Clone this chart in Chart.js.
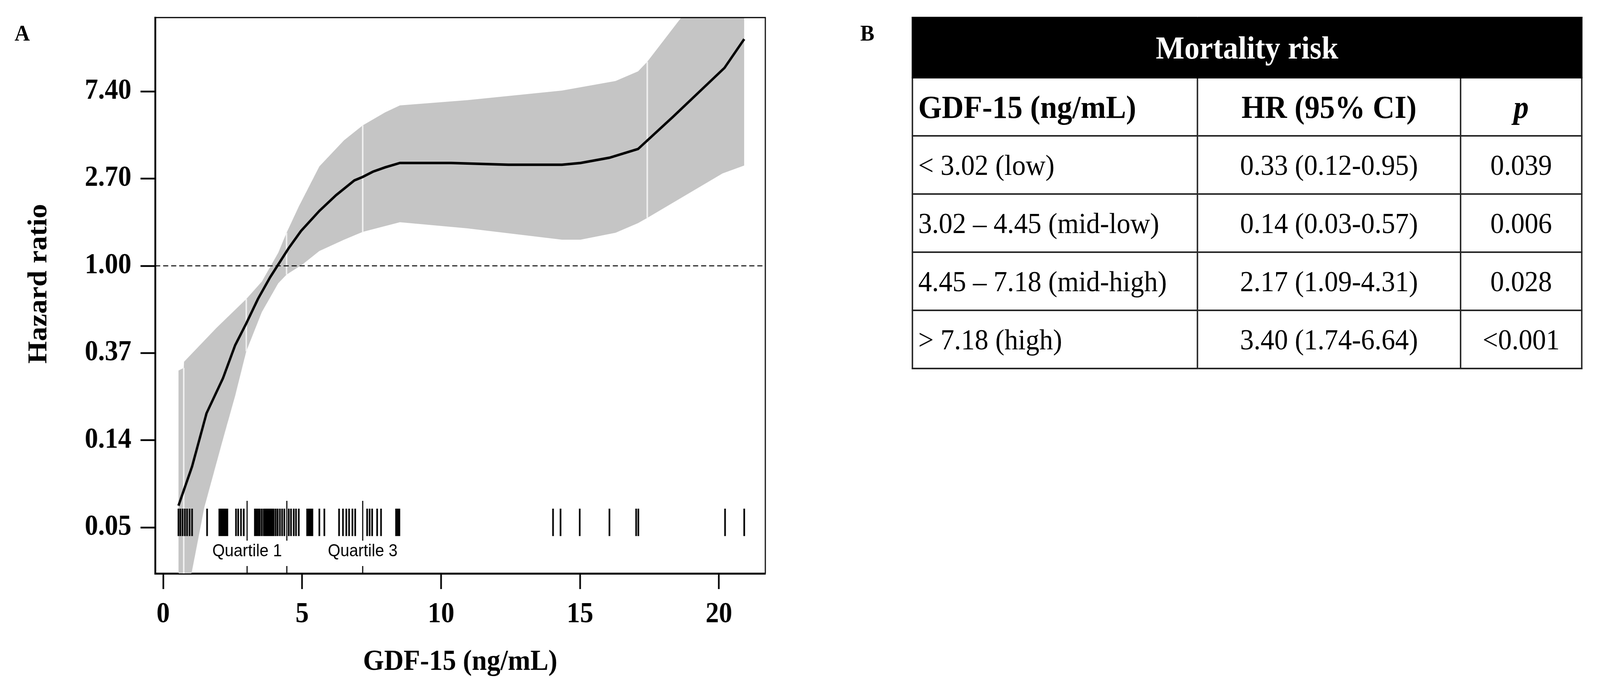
<!DOCTYPE html>
<html>
<head>
<meta charset="utf-8">
<script src="https://cdn.jsdelivr.net/npm/chart.js@4.4.1/dist/chart.umd.min.js"></script>
<style>
  html, body { margin: 0; padding: 0; background: #fff; overflow: hidden; }
  #page { position: absolute; left: 0; top: 0; width: 4384px; height: 1765px; transform-origin: 0 0; font-family: "Liberation Serif", serif; }
  #wrap { position: absolute; left: 0; top: 0; width: 2300px; height: 1765px; }
  .panel { position: absolute; font: bold 58px "Liberation Serif"; line-height: 1; color: #000; }
  #tbl { position: absolute; left: 2498px; top: 43px; width: 1834px; border-collapse: collapse; table-layout: fixed; }
  #tbl td { border: 4px solid #262626; font-size: 75px; color: #000; padding: 0; vertical-align: middle; white-space: nowrap; }
  #tbl td.c0 { text-align: left; padding-left: 14px; }
  #tbl td.c1, #tbl td.c2 { text-align: center; }
  #tbl tr.title td { background: #000; color: #fff; font-weight: bold; font-size: 83px; text-align: center; border-color: #000; }
  #tbl tr.head td { font-weight: bold; font-size: 83px; }
  #tbl tr.head td.c2 { font-style: italic; }
</style>
</head>
<body>
<div id="page">
  <div class="panel" style="left:40px;top:56px;">A</div>
  <div class="panel" style="left:2357px;top:56px;">B</div>
  <div id="wrap"><canvas id="hr" width="2300" height="1765"></canvas></div>
  <table id="tbl"></table>
</div>
<script>
// spline of the log hazard ratio (y = ln HR)
const gdfX = [0.55, 1.04, 1.56, 2.15, 2.59, 2.99, 3.41, 3.85, 4.19, 4.51, 4.96, 5.62, 6.22, 6.88, 7.18, 7.55, 7.99, 8.52, 10.36, 12.43, 14.35, 15.02, 16.06, 17.09, 18.35, 20.2, 20.91];
const logHR = [-2.75, -2.30, -1.69, -1.29, -0.91, -0.66, -0.38, -0.13, 0.04, 0.20, 0.40, 0.63, 0.81, 0.98, 1.02, 1.08, 1.13, 1.18, 1.18, 1.16, 1.16, 1.18, 1.24, 1.34, 1.71, 2.27, 2.60];

// 95% confidence band
const upX = [0.55, 0.74, 0.75, 1.92, 2.99, 3.55, 4.14, 4.44, 4.88, 5.62, 6.51, 7.18, 7.99, 8.52, 10.95, 14.35, 16.28, 17.09, 17.42, 18.65, 20.2, 20.91];
const upLogHR = [-1.20, -1.17, -1.10, -0.71, -0.38, -0.18, 0.15, 0.38, 0.68, 1.14, 1.44, 1.61, 1.76, 1.84, 1.90, 2.01, 2.12, 2.23, 2.34, 2.85, 3.50, 3.78];
const loX = [0.55, 1.48, 2.15, 2.59, 2.99, 3.55, 4.14, 4.44, 5.03, 5.62, 6.51, 7.18, 8.52, 10.95, 14.35, 15.02, 16.28, 17.09, 17.42, 20.13, 20.91];
const loLogHR = [-4.30, -2.77, -1.99, -1.49, -0.98, -0.53, -0.20, -0.10, 0.02, 0.17, 0.30, 0.39, 0.50, 0.43, 0.30, 0.30, 0.38, 0.49, 0.55, 1.06, 1.15];

// thin white seams inside the band
const gapX = [0.74, 2.99, 4.44, 7.18, 17.42];
const gapLow = [-4.0, -0.98, -0.10, 0.39, 0.55];
const gapHigh = [-1.17, -0.38, 0.38, 1.61, 2.34];

// rug of observed GDF-15 values
const rugX = [0.55, 0.62, 0.70, 0.78, 0.86, 0.95, 1.04, 1.58, 2.02, 2.07, 2.12, 2.17, 2.22, 2.27, 2.31,
  2.62, 2.70, 2.80, 2.90, 3.30, 3.36, 3.42, 3.48, 3.55, 3.62, 3.68, 3.73, 3.78, 3.83, 3.88, 3.93, 3.98,
  4.05, 4.12, 4.20, 4.28, 4.36, 4.52, 4.60, 4.70, 4.78, 4.88, 5.18, 5.23, 5.28, 5.33, 5.37, 5.62, 5.80,
  6.33, 6.47, 6.59, 6.69, 6.81, 6.91, 7.34, 7.43, 7.52, 7.70, 7.84, 8.38, 8.44, 8.50,
  14.03, 14.30, 14.99, 16.06, 17.02, 17.10, 20.22, 20.91];
const rugRange = [-3.098, -2.784];

const quartileX = [3.02, 4.45, 7.18];
const quartileLong = [-3.151, -2.695];
const quartileShort = [-3.527, -3.442];
const quartileLabels = ['Quartile 1', 'Quartile 3'];
const quartileLabelX = [3.02, 7.18];
const quartileLabelY = -3.277;

const refLogHR = 0; // HR = 1

const xTicks = [0, 5, 10, 15, 20];
const yTicks = [-3, -2, -1, 0, 1, 2];
const yTickLabels = ['0.05', '0.14', '0.37', '1.00', '2.70', '7.40'];
const xRange = [-0.29, 21.67];
const yRange = [-3.527, 2.847];
const yTitle = 'Hazard ratio';
const xTitle = 'GDF-15 (ng/mL)';

// table B
const tableTitle = 'Mortality risk';
const tableHead = ['GDF-15 (ng/mL)', 'HR (95% CI)', 'p'];
const groups = ['< 3.02 (low)', '3.02 \u2013 4.45 (mid-low)', '4.45 \u2013 7.18 (mid-high)', '> 7.18 (high)'];
const hrCI = ['0.33 (0.12-0.95)', '0.14 (0.03-0.57)', '2.17 (1.09-4.31)', '3.40 (1.74-6.64)'];
const pValues = ['0.039', '0.006', '0.028', '<0.001'];

// the window may be narrower than the figure: squeeze the page sideways to fit
const kx = Math.min(1, window.innerWidth / 4384);
document.getElementById('page').style.transform = 'scale(' + kx + ', 1)';

function pts(xs, ys) { return xs.map((v, i) => ({ x: v, y: ys[i] })); }
function segs(xs, lows, highs) {
  const out = [];
  xs.forEach((v, i) => {
    const lo = Array.isArray(lows) ? lows[i] : lows;
    const hi = Array.isArray(highs) ? highs[i] : highs;
    out.push({ x: v, y: lo }, { x: v, y: hi }, { x: v, y: null });
  });
  return out;
}

const serif = 'Liberation Serif';
const noPts = { pointRadius: 0, pointHoverRadius: 0, tension: 0, spanGaps: false };

const extras = {
  id: 'extras',
  afterDatasetsDraw(chart) {
    const { ctx, chartArea: a, scales: { x, y } } = chart;
    ctx.save();
    ctx.strokeStyle = '#000';
    ctx.lineWidth = 3;
    ctx.beginPath();
    ctx.moveTo(a.left, a.top);
    ctx.lineTo(a.right, a.top);
    ctx.lineTo(a.right, a.bottom);
    ctx.stroke();
    ctx.fillStyle = '#000';
    ctx.font = '44px "Liberation Sans"';
    ctx.textAlign = 'center';
    ctx.textBaseline = 'middle';
    quartileLabels.forEach((t, i) => {
      ctx.fillText(t, x.getPixelForValue(quartileLabelX[i]), y.getPixelForValue(quartileLabelY));
    });
    // y title sits a little above the middle of the axis
    ctx.font = 'bold 74px "' + serif + '"';
    ctx.translate(108, 727);
    ctx.rotate(-Math.PI / 2);
    ctx.fillText(yTitle, 0, 0);
    ctx.restore();
  }
};

new Chart(document.getElementById('hr').getContext('2d'), {
  type: 'line',
  data: {
    datasets: [
      Object.assign({ data: pts(gdfX, logHR), borderColor: '#000', borderWidth: 6.5, order: 0 }, noPts),
      Object.assign({ data: segs(rugX, rugRange[0], rugRange[1]), borderColor: '#000', borderWidth: 4.5, order: 1 }, noPts),
      Object.assign({ data: segs(quartileX, quartileLong[0], quartileLong[1]), borderColor: '#000', borderWidth: 3, order: 1 }, noPts),
      Object.assign({ data: segs(quartileX, quartileShort[0], quartileShort[1]), borderColor: '#000', borderWidth: 3, order: 1 }, noPts),
      Object.assign({ data: pts(xRange, [refLogHR, refLogHR]), borderColor: '#000', borderWidth: 2.5, borderDash: [14, 8], order: 1 }, noPts),
      Object.assign({ data: segs(gapX, gapLow, gapHigh), borderColor: '#f2f2f2', borderWidth: 4, order: 2 }, noPts),
      Object.assign({ data: pts(upX, upLogHR), borderColor: 'rgba(0,0,0,0)', borderWidth: 1, backgroundColor: '#c5c5c5', fill: '+1', order: 3 }, noPts),
      Object.assign({ data: pts(loX, loLogHR), borderColor: 'rgba(0,0,0,0)', borderWidth: 1, fill: false, order: 3 }, noPts)
    ]
  },
  options: {
    responsive: false,
    animation: false,
    devicePixelRatio: 1,
    events: [],
    layout: { padding: { top: 45, right: 203, left: 0, bottom: 0 } },
    plugins: { legend: { display: false }, tooltip: { enabled: false } },
    scales: {
      x: {
        type: 'linear',
        min: xRange[0],
        max: xRange[1],
        afterFit: s => { s.height = 296; s.paddingLeft = 0; s.paddingRight = 0; },
        afterBuildTicks: s => { s.ticks = xTicks.map(v => ({ value: v })); },
        ticks: { autoSkip: false, maxRotation: 0, padding: 22, color: '#000', font: { family: serif, size: 73, weight: 'bold' } },
        grid: { drawOnChartArea: false, drawTicks: true, tickLength: 40, tickWidth: 4.5, tickColor: '#000' },
        border: { display: true, width: 5, color: '#000' },
        title: { display: true, text: xTitle, color: '#000', font: { family: serif, size: 74, weight: 'bold' }, padding: { top: 0, bottom: 24 } }
      },
      y: {
        type: 'linear',
        min: yRange[0],
        max: yRange[1],
        afterFit: s => { s.width = 425; s.paddingTop = 0; s.paddingBottom = 0; },
        afterBuildTicks: s => { s.ticks = yTicks.map(v => ({ value: v })); },
        ticks: {
          autoSkip: false, padding: 25, color: '#000', font: { family: serif, size: 73, weight: 'bold' },
          callback: v => yTickLabels[yTicks.indexOf(v)]
        },
        grid: { drawOnChartArea: false, drawTicks: true, tickLength: 40, tickWidth: 4.5, tickColor: '#000' },
        border: { display: true, width: 5, color: '#000' },
        title: { display: false }
      }
    }
  },
  plugins: [extras]
});

// table B
const tbl = document.getElementById('tbl');
const colW = [781, 721, 332];
let html = '<colgroup>' + colW.map(w => '<col style="width:' + w + 'px">').join('') + '</colgroup>';
html += '<tr class="title" style="height:154px"><td colspan="3">' + tableTitle + '</td></tr>';
html += '<tr class="head" style="height:149px">' + tableHead.map((t, i) => '<td class="c' + i + '">' + t + '</td>').join('') + '</tr>';
groups.forEach((g, i) => {
  const cells = [g, hrCI[i], pValues[i]].map(t => t.replace(/</g, '&lt;').replace(/>/g, '&gt;'));
  html += '<tr style="height:149px">' + cells.map((t, j) => '<td class="c' + j + '">' + t + '</td>').join('') + '</tr>';
});
tbl.innerHTML = html;
</script>
</body>
</html>
